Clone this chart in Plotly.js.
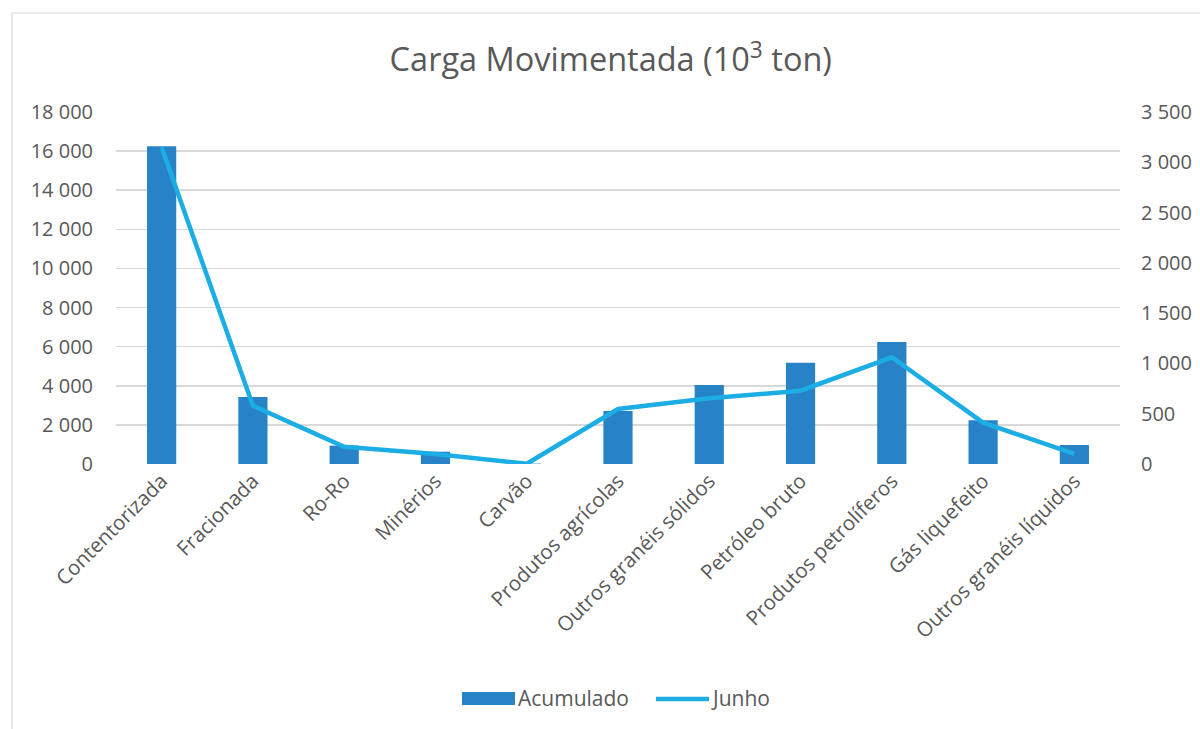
<!DOCTYPE html>
<html><head><meta charset="utf-8">
<script src="https://cdn.plot.ly/plotly-3.0.1.min.js"></script>
<style>html,body{margin:0;padding:0;background:#fff;}#chart{width:1200px;height:729px;}</style>
</head><body><div id="chart"></div>
<script>
const categories = ["Contentorizada","Fracionada","Ro-Ro","Minérios","Carvão","Produtos agrícolas","Outros granéis sólidos","Petróleo bruto","Produtos petrolíferos","Gás liquefeito","Outros granéis líquidos"];
const acumulado = [16250, 3430, 940, 630, 20, 2710, 4040, 5180, 6240, 2240, 970];
const junho = [3150, 580, 172, 100, 2, 547, 653, 729, 1061, 411, 100];
const leftTicks = [0,2000,4000,6000,8000,10000,12000,14000,16000,18000];
const rightTicks = [0,500,1000,1500,2000,2500,3000,3500];
const seriesNames = ["Acumulado","Junho"];

const font = "'Open Sans', 'Noto Sans', sans-serif";
const grey = "#595959";
const barColor = "#2783c6";
const lineColor = "#1cade4";
// pixel helpers for legend placement (plot area: x 116..1120, y 112..464)
const L = 116, R = 1120, T = 112, B = 464;
const px = v => (v - L) / (R - L);
const py = v => (B - v) / (B - T);

const traces = [
  {type:"bar", name:seriesNames[0], x:categories, y:acumulado, marker:{color:barColor}, yaxis:"y"},
  {type:"scatter", mode:"lines", name:seriesNames[1], x:categories, y:junho, line:{color:lineColor, width:4.5}, yaxis:"y2"}
];
const layout = {
  width:1200, height:729,
  margin:{l:L, r:1200-R, t:T, b:729-B},
  paper_bgcolor:"#fff", plot_bgcolor:"#fff",
  separators:". ",
  font:{family:font, color:grey, size:20},
  title:{text:"Carga Movimentada (10<sup>3</sup> ton)", x:0.509, xanchor:"center", y:0.918, yanchor:"middle", font:{size:32.5, color:grey, family:font}},
  bargap:0.68,
  showlegend:false,
  xaxis:{tickangle:-45, showgrid:false, showline:false, ticks:"", tickfont:{size:20.5, color:grey}, automargin:false},
  yaxis:{range:[0,18000], tickvals:leftTicks, tickformat:",d", showgrid:true, gridcolor:"#d9d9d9", gridwidth:1.5, zeroline:false, showline:false, ticks:"", tickfont:{size:20, color:grey}, automargin:false, ticklabelstandoff:22},
  yaxis2:{range:[0,3500], tickvals:rightTicks, tickformat:",d", overlaying:"y", side:"right", showgrid:false, zeroline:false, showline:false, ticks:"", tickfont:{size:20, color:grey}, automargin:false, ticklabelstandoff:20},
  shapes:[
    {type:"rect", xref:"paper", yref:"paper", x0:px(12), x1:px(1210), y0:py(740), y1:py(13), line:{color:"#d9d9d9", width:1.2}, fillcolor:"rgba(0,0,0,0)", layer:"below"},
    {type:"rect", xref:"paper", yref:"paper", x0:px(462), x1:px(515), y0:py(705), y1:py(692), line:{width:0}, fillcolor:barColor},
    {type:"line", xref:"paper", yref:"paper", x0:px(656), x1:px(709), y0:py(699), y1:py(699), line:{color:lineColor, width:4.5}}
  ],
  annotations:[
    {xref:"paper", yref:"paper", x:px(516), y:py(698), xanchor:"left", yanchor:"middle", text:seriesNames[0], showarrow:false, font:{size:21, color:grey, family:font}},
    {xref:"paper", yref:"paper", x:px(709), y:py(698), xanchor:"left", yanchor:"middle", text:seriesNames[1], showarrow:false, font:{size:21, color:grey, family:font}}
  ]
};
Plotly.newPlot("chart", traces, layout, {displayModeBar:false, staticPlot:true});
</script>
</body></html>
